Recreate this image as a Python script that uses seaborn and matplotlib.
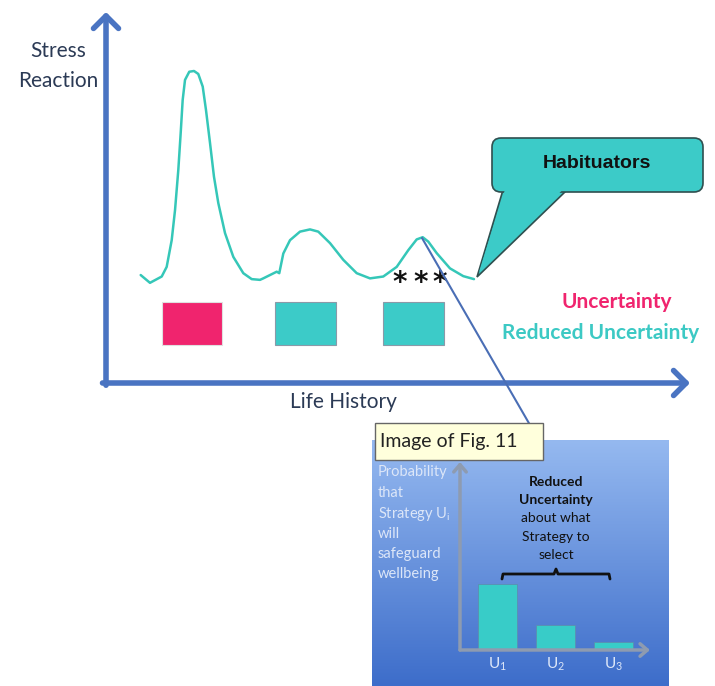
import numpy as np
import pandas as pd
import matplotlib
matplotlib.use("Agg")
import matplotlib.pyplot as plt
import seaborn as sns
from matplotlib.patches import Rectangle, FancyBboxPatch, Polygon
from matplotlib.colors import LinearSegmentedColormap

sns.set_theme(style="white")
plt.rcParams['font.family'] = ['Lato', 'DejaVu Sans']

# stress reaction over life history (both axes 0-100)
life_t = [5.94, 7.53, 9.54, 10.39, 11.25, 11.82, 12.38, 12.79, 13.13, 13.53, 14.26, 15.07,
          15.80, 16.56, 17.12, 17.81, 18.49, 19.23, 20.38, 21.80, 23.51, 24.95, 26.37,
          26.93, 29.23, 29.67, 30.36, 31.51, 33.22, 34.93, 36.35, 38.36, 40.63, 42.93,
          45.21, 47.48, 49.78, 51.76, 53.20, 54.23, 55.19, 56.63, 58.90, 61.18, 63.01]
stress = [29.1, 27.0, 28.7, 31.3, 38.5, 46.6, 57.4, 67.4, 76.3, 81.7, 83.9, 84.1,
          83.3, 79.9, 73.6, 64.7, 55.6, 48.5, 40.4, 34.0, 29.6, 28.0, 27.8,
          28.2, 30.0, 29.6, 34.9, 38.5, 40.8, 41.4, 40.8, 37.7, 33.2, 29.6,
          28.2, 28.7, 31.3, 35.8, 38.7, 39.3, 38.1, 35.0, 30.9, 28.8, 28.0]

# periods of uncertainty / reduced uncertainty
period_start = [9.6, 28.9, 47.4]
period_end = [19.9, 39.4, 57.9]
period_kind = ["Uncertainty", "Reduced Uncertainty", "Reduced Uncertainty"]

# significance stars under the last peak
star_t = [50.3, 53.8, 57.2]

# inset: probability that strategy U_i will safeguard wellbeing
strategies = ["U1", "U2", "U3"]
probability = [0.35, 0.135, 0.045]
strategy_labels = [r"$\mathregular{U_1}$", r"$\mathregular{U_2}$", r"$\mathregular{U_3}$"]

PINK = "#F0246E"
TEAL = "#3CCBC8"
CURVE = "#35C7B8"
AXBLUE = "#4A74C2"
NAVY = "#2B3A55"
W, H = 715, 686

fig = plt.figure(figsize=(W / 100, H / 100), dpi=100)
fig.patch.set_facecolor("white")

# ---- main chart ----
ax = fig.add_axes([106 / W, (H - 383) / H, 584 / W, 371 / H])
ax.set_xlim(0, 100)
ax.set_ylim(0, 100)
ax.axis("off")

curve = pd.DataFrame({"t": life_t, "stress": stress})
sns.lineplot(data=curve, x="t", y="stress", sort=False, color=CURVE, lw=1.8, ax=ax,
             solid_joinstyle="round", solid_capstyle="round")

box_colors = {"Uncertainty": PINK, "Reduced Uncertainty": TEAL}
for s, e, k in zip(period_start, period_end, period_kind):
    ax.add_patch(Rectangle((s, 10.2), e - s, 11.6, facecolor=box_colors[k],
                           edgecolor="#E0E0E0" if k == "Uncertainty" else "#8A9AA8", lw=0.8))

arrow = dict(arrowstyle="->,head_length=0.45,head_width=0.45", color=AXBLUE, lw=4,
             shrinkA=0, shrinkB=0, mutation_scale=20)
ax.annotate("", xy=(0, 1.0), xytext=(0, -0.006), xycoords="axes fraction", arrowprops=arrow)
ax.annotate("", xy=(1.0, 0), xytext=(-0.006, 0), xycoords="axes fraction", arrowprops=arrow)

for st in star_t:
    ax.text(st, 27.0, "*", ha="center", va="center", fontsize=20, fontweight="bold",
            family="DejaVu Sans", color="#111111")

# ---- overlay in pixel units for annotations ----
ov = fig.add_axes([0, 0, 1, 1])
ov.patch.set_alpha(0)

fig.text(58 / W, 1 - 51 / H, "Stress", ha="center", va="center", fontsize=15, color=NAVY)
fig.text(58 / W, 1 - 81 / H, "Reaction", ha="center", va="center", fontsize=15, color=NAVY)
fig.text(343 / W, 1 - 402 / H, "Life History", ha="center", va="center", fontsize=15, color=NAVY)
fig.text(617 / W, 1 - 302 / H, "Uncertainty", ha="center", va="center", fontsize=15,
         fontweight="bold", color=PINK)
fig.text(601 / W, 1 - 333 / H, "Reduced Uncertainty", ha="center", va="center", fontsize=15,
         fontweight="bold", color="#3CC9C4")

# callout "Habituators"
ov.add_patch(Polygon([(503, 190), (567, 190), (477, 277)], closed=True,
                     facecolor=TEAL, edgecolor="#2F4F4F", lw=1.2, zorder=3))
ov.add_patch(FancyBboxPatch((492, 138), 211, 54, boxstyle="round,pad=0,rounding_size=9",
                            facecolor=TEAL, edgecolor="#2F4F4F", lw=1.2, zorder=4))
ov.add_patch(Polygon([(505.5, 188), (564.5, 188), (479, 272)], closed=True,
                     facecolor=TEAL, edgecolor="none", zorder=5))
ov.text(597, 163, "Habituators", ha="center", va="center", fontsize=14, fontweight="bold",
        family="Liberation Sans", color="#111111", zorder=6)

# inset background
grad = np.linspace(0, 1, 256).reshape(-1, 1)
cmap = LinearSegmentedColormap.from_list("bg", ["#95B9F0", "#3D6DCA"])
ov.imshow(grad, cmap=cmap, extent=(372, 669, 686, 440), aspect="auto", zorder=1)

# connector line from peak to inset
ov.plot([422, 530], [238, 425], color="#4A6EB5", lw=1.5, zorder=2)

# tooltip
ov.add_patch(Rectangle((375, 423), 168, 37, facecolor="#FFFFDC", edgecolor="#666666",
                       lw=1, zorder=7))
ov.text(380, 442, "Image of Fig. 11", ha="left", va="center", fontsize=14,
        color="#222222", zorder=8)

# inset left label
for yy, line in zip([472, 493, 514, 534, 554, 574],
                    ["Probability", "that", r"Strategy U$\mathregular{_i}$", "will",
                     "safeguard", "wellbeing"]):
    ov.text(378, yy, line, ha="left", va="center", fontsize=10.5, color="#DCE6F8", zorder=3)

# inset bold/normal caption
for yy, line, wt in zip([482, 500, 518, 537, 555],
                        ["Reduced", "Uncertainty", "about what", "Strategy to", "select"],
                        ["bold", "bold", "normal", "normal", "normal"]):
    ov.text(556, yy, line, ha="center", va="center", fontsize=10, fontweight=wt,
            color="#111111", zorder=3)

# brace
ov.plot([502, 503, 554, 556, 558, 609, 610], [579, 574, 574, 569, 574, 574, 579],
        color="#111111", lw=2, zorder=3, solid_joinstyle="round")

ov.set_xlim(0, W)
ov.set_ylim(H, 0)
ov.axis("off")

# ---- inset bar chart ----
ins = fig.add_axes([460 / W, (H - 650) / H, 190 / W, 188 / H])
ins.patch.set_alpha(0)
bars = pd.DataFrame({"strategy": strategies, "p": probability})
sns.barplot(data=bars, x="strategy", y="p", color="#38CCC8", saturation=1, width=0.67,
            edgecolor="#5B8FB0", linewidth=0.6, ax=ins)
ins.set_xlim(-0.647, 2.63)
ins.set_ylim(0, 1)
for sp in ins.spines.values():
    sp.set_visible(False)
ins.set_yticks([])
ins.set_xticks(range(3))
ins.set_xticklabels(strategy_labels, fontsize=11, color="#DCE6F8")
ins.tick_params(axis="x", length=0, pad=4)
ins.set_xlabel("")
ins.set_ylabel("")
grey_arrow = dict(arrowstyle="->,head_length=0.35,head_width=0.3", color="#8E9BB0", lw=2.5,
                  shrinkA=0, shrinkB=0, mutation_scale=15)
ins.annotate("", xy=(0, 1.0), xytext=(0, 0), xycoords="axes fraction", arrowprops=grey_arrow)
ins.annotate("", xy=(1.0, 0), xytext=(0, 0), xycoords="axes fraction", arrowprops=grey_arrow)

fig.savefig("out.png", dpi=100, facecolor="white")
